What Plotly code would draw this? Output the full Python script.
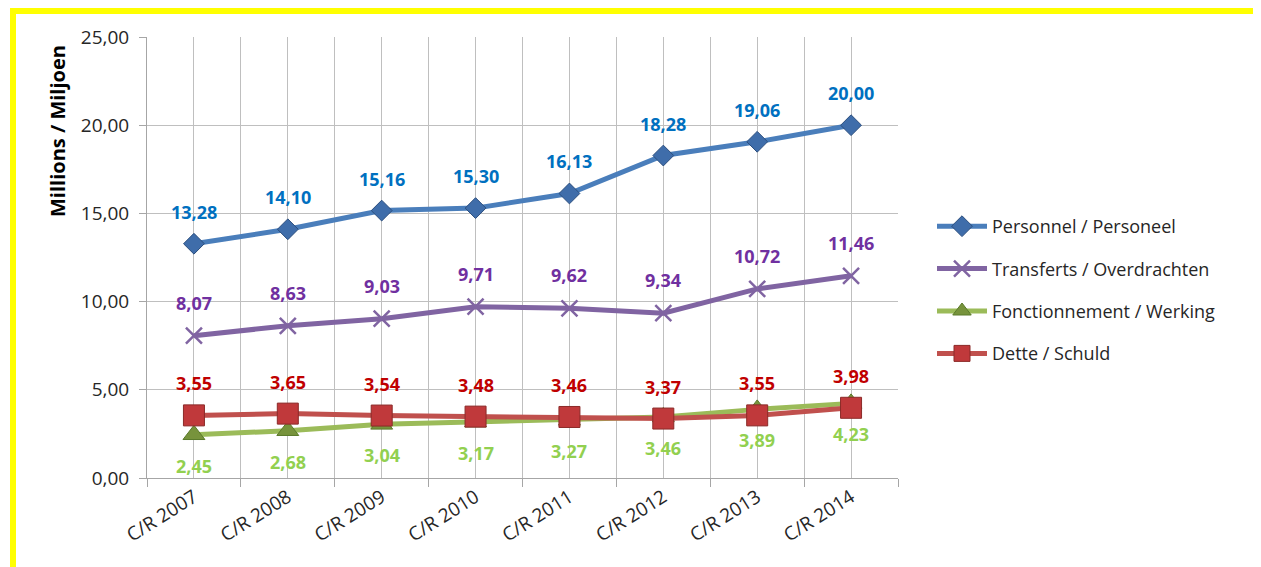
import plotly.graph_objects as go

categories = ["C/R 2007", "C/R 2008", "C/R 2009", "C/R 2010", "C/R 2011", "C/R 2012", "C/R 2013", "C/R 2014"]
personnel = [13.28, 14.10, 15.16, 15.30, 16.13, 18.28, 19.06, 20.00]
transferts = [8.07, 8.63, 9.03, 9.71, 9.62, 9.34, 10.72, 11.46]
fonctionnement = [2.45, 2.68, 3.04, 3.17, 3.27, 3.46, 3.89, 4.23]
dette = [3.55, 3.65, 3.54, 3.48, 3.46, 3.37, 3.55, 3.98]
names = ["Personnel / Personeel", "Transferts / Overdrachten", "Fonctionnement / Werking", "Dette / Schuld"]

FONT = "Open Sans"
xs = list(range(len(categories)))

series = [
    (personnel, names[0], "#4A7EBB", dict(symbol="diamond", size=16, color="#3F6DAA", line=dict(color="#2B4E7E", width=1)), "#0070C0", 32),
    (transferts, names[1], "#8064A2", dict(symbol="x-thin", size=16, color="#8064A2", line=dict(color="#8064A2", width=2.5)), "#7030A0", 33),
    (fonctionnement, names[2], "#9BBB59", dict(symbol="triangle-up", size=19, color="#77933C", line=dict(color="#5A7A2A", width=1)), "#92D050", -31),
    (dette, names[3], "#C0504D", dict(symbol="square", size=21, color="#C0393B", line=dict(color="#8B2A28", width=1)), "#C00000", 32),
]

fig = go.Figure()
for i, (vals, name, lc, mk, tc, shift) in enumerate(series):
    fig.add_trace(go.Scatter(
        x=xs, y=vals, name=name, mode="lines+markers",
        line=dict(color=lc, width=5), marker=mk,
        legendgroup=str(i), cliponaxis=False,
    ))
    for xv, v in zip(xs, vals):
        fig.add_annotation(x=xv, y=v, xref="x", yref="y", text="<b>" + f"{v:.2f}".replace(".", ",") + "</b>",
                           showarrow=False, yshift=shift,
                           font=dict(family=FONT, size=18, color=tc))

grid = "#BFBFBF"
W, H = 1253, 559
fig.update_layout(
    width=W, height=H,
    margin=dict(l=139, r=W - 890, t=29, b=H - 470),
    paper_bgcolor="white", plot_bgcolor="white",
    separators=",.",
    font=dict(family=FONT, size=18, color="#262626"),
    showlegend=True,
    legend=dict(x=(932 - 147) / 751, y=(478 - 208) / 441, xanchor="left", yanchor="top",
                font=dict(family=FONT, size=18, color="#262626"),
                tracegroupgap=16, itemwidth=50, bgcolor="rgba(0,0,0,0)"),
    xaxis=dict(range=[-0.5, 7.5], tickvals=xs, ticktext=categories, ticks="",
               tickangle=-32, showgrid=True, gridcolor=grid, gridwidth=1,
               showline=True, linecolor="#A6A6A6", linewidth=1, zeroline=False,
               tickfont=dict(family=FONT, size=19, color="#262626"),
               minor=dict(tickvals=[i - 0.5 for i in range(len(categories) + 1)],
                          ticks="outside", ticklen=8, tickcolor="#A6A6A6",
                          showgrid=True, gridcolor=grid, gridwidth=1)),
    yaxis=dict(range=[0, 25], dtick=5, tickformat=".2f", ticks="outside", ticklen=7,
               tickcolor="#A6A6A6", showgrid=True, gridcolor=grid, gridwidth=1,
               showline=True, linecolor="#A6A6A6", linewidth=1, zeroline=False,
               tickfont=dict(family=FONT, size=19, color="#262626"), ticklabelstandoff=6),
)

fig.add_annotation(text="<b>Millions / Miljoen</b>", xref="paper", yref="paper",
                   x=(57 - 147) / 751, y=(478 - 131) / 441, xanchor="center", yanchor="middle",
                   textangle=-90, showarrow=False, font=dict(family=FONT, size=20, color="#000000"))

def px_x(p):
    return (p - 147) / 751

def px_y(p):
    return (478 - p) / 441

yellow = "#FFFF00"
fig.add_shape(type="rect", xref="paper", yref="paper", x0=px_x(10), x1=px_x(1275), y0=px_y(7), y1=px_y(14),
              fillcolor=yellow, line=dict(width=0), layer="above")
fig.add_shape(type="rect", xref="paper", yref="paper", x0=px_x(10), x1=px_x(16), y0=px_y(7), y1=px_y(590),
              fillcolor=yellow, line=dict(width=0), layer="above")
fig.add_shape(type="rect", xref="paper", yref="paper", x0=px_x(1258), x1=px_x(1275), y0=px_y(7), y1=px_y(590),
              fillcolor=yellow, line=dict(width=0), layer="above")

fig.write_html("out.html")
